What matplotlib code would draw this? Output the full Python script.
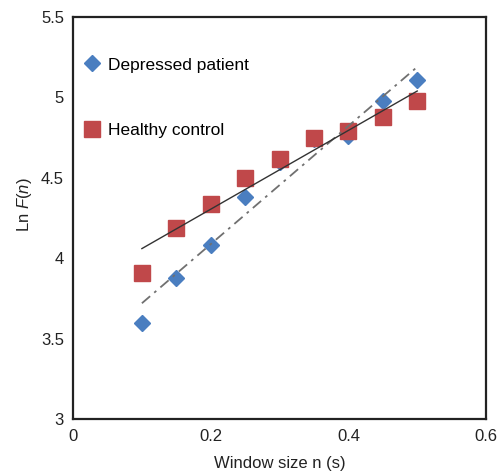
import matplotlib
matplotlib.use("Agg")
import matplotlib.pyplot as plt
from matplotlib.lines import Line2D

plt.rcParams['font.family'] = ['Liberation Sans', 'DejaVu Sans']
plt.rcParams['mathtext.fontset'] = 'custom'
plt.rcParams['mathtext.rm'] = 'Liberation Sans'
plt.rcParams['mathtext.it'] = 'Liberation Sans:italic'

# Data
window_sizes = [0.10, 0.15, 0.20, 0.25, 0.30, 0.35, 0.40, 0.45, 0.50]
depressed = [3.60, 3.88, 4.08, 4.38, 4.60, 4.74, 4.76, 4.98, 5.11]
healthy = [3.91, 4.19, 4.34, 4.50, 4.62, 4.75, 4.79, 4.88, 4.98]
trend_x = [0.10, 0.50]
healthy_trend = [4.06, 5.04]
depressed_trend = [3.72, 5.19]
x_ticks = [0, 0.2, 0.4, 0.6]
x_tick_labels = ['0', '0.2', '0.4', '0.6']
y_ticks = [3, 3.5, 4, 4.5, 5, 5.5]
y_tick_labels = ['3', '3.5', '4', '4.5', '5', '5.5']

fig = plt.figure(figsize=(4.97, 4.74), dpi=100)
ax = fig.add_axes([0.147, 0.116, 0.831, 0.848])

blue = '#4A7EC0'
red = '#C0484A'

ax.plot(window_sizes, depressed, linestyle='none', marker='D', markersize=8.5,
        color=blue, zorder=2)
ax.plot(window_sizes, healthy, linestyle='none', marker='s', markersize=12,
        color=red, zorder=3)
ax.plot(trend_x, depressed_trend, color='#707070', linewidth=1.3,
        linestyle=(0, (6, 3, 1.5, 3)), zorder=4)
ax.plot(trend_x, healthy_trend, color='#333333', linewidth=1.0, zorder=4)

ax.set_xlim(0, 0.6)
ax.set_ylim(3, 5.5)
ax.set_xticks(x_ticks)
ax.set_xticklabels(x_tick_labels)
ax.set_yticks(y_ticks)
ax.set_yticklabels(y_tick_labels)
ax.tick_params(axis='both', length=0, labelsize=12, colors='#222222')
ax.tick_params(axis='x', pad=7)
ax.tick_params(axis='y', pad=6.5)
for s in ax.spines.values():
    s.set_linewidth(1.6)
    s.set_color('#222222')

ax.set_xlabel('Window size n (s)', fontsize=12, color='#222222', labelpad=9)
ax.set_ylabel('Ln $F$($n$)', fontsize=12, color='#222222')
ax.yaxis.set_label_coords(-0.095, 0.532)

handles = [
    Line2D([], [], linestyle='none', marker='D', markersize=8, color=blue),
    Line2D([], [], linestyle='none', marker='s', markersize=12, color=red),
]
ax.legend(handles, ['Depressed patient', 'Healthy control'], loc='upper left',
          bbox_to_anchor=(0.0, 0.93), frameon=False, fontsize=12.5,
          labelspacing=2.9, handlelength=0.8, handletextpad=0.5,
          borderaxespad=0.3)

fig.savefig('out.png', dpi=100)
